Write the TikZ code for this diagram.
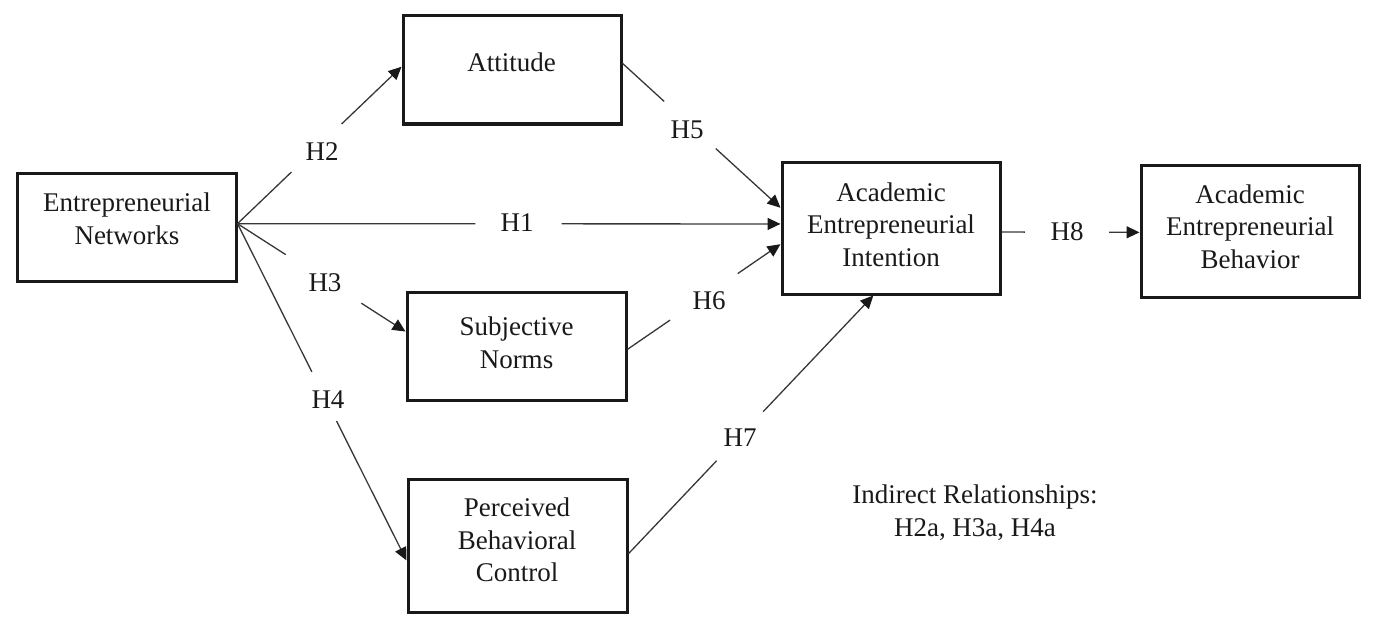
\documentclass[tikz,border=0pt]{standalone}
\usepackage{fontspec}
\setmainfont{Liberation Serif}
\usetikzlibrary{arrows.meta,calc}
\definecolor{ink}{RGB}{25,25,25}
\definecolor{wire}{RGB}{55,55,55}
\begin{document}
\begin{tikzpicture}[x=0.5pt,y=-0.5pt,
  box/.style={draw=ink, line width=1.5pt, inner sep=0pt},
  txt/.style={text=ink, align=center, inner sep=0pt, font=\fontsize{13.5}{16.3}\selectfont},
  hlab/.style={text=ink, inner sep=0pt, font=\fontsize{13.5}{16.3}\selectfont},
  wire/.style={draw=wire, line width=0.65pt},
  arr/.style={wire, -{Triangle[length=6.5pt,width=6pt,color=ink]}}]
\useasboundingbox (0,0) rectangle (1380,631);
% boxes
\node[box, minimum width=109.5pt, minimum height=54pt] (en) at (126.5,227) {};
\node[box, minimum width=109pt, minimum height=54pt] (att) at (512,70) {};
\node[box, minimum width=109.5pt, minimum height=54pt] (sn) at (516.5,346) {};
\node[box, minimum width=109.5pt, minimum height=66.5pt] (pbc) at (517.5,545.5) {};
\node[box, minimum width=109pt, minimum height=66pt] (int) at (891,228) {};
\node[box, minimum width=109pt, minimum height=66pt] (beh) at (1250,231) {};
% box texts
\node[txt] (ent) at (127,218.5) {Entrepreneurial\\Networks};
\node[txt] (attt) at (511.5,62) {Attitude};
\node[txt] (snt) at (516.5,343) {Subjective\\Norms};
\node[txt] (pbct) at (517,540) {Perceived\\Behavioral\\Control};
\node[txt] (intt) at (891,224.5) {Academic\\Entrepreneurial\\Intention};
\node[txt] (beht) at (1250,226.5) {Academic\\Entrepreneurial\\Behavior};
\node[txt] (ind) at (975,513) {Indirect Relationships:\\H2a, H3a, H4a};
% hypothesis labels
\node[hlab] (h1) at (517,223) {H1};
\node[hlab] (h2) at (322,152) {H2};
\node[hlab] (h3) at (325,283) {H3};
\node[hlab] (h4) at (328,400) {H4};
\node[hlab] (h5) at (687,130) {H5};
\node[hlab] (h6) at (709,301) {H6};
\node[hlab] (h7) at (740,438) {H7};
\node[hlab] (h8) at (1067,232) {H8};
% connector end points
\coordinate (o)  at ($(en.north east)!0.47!(en.south east)$);
\coordinate (t1) at ($(int.north west)!0.47!(int.south west)$);
\coordinate (t2) at ($(att.north west)!0.47!(att.south west)$);
\coordinate (t3) at ($(sn.north west)!0.37!(sn.south west)$);
\coordinate (t4) at ($(pbc.north west)!0.61!(pbc.south west)$);
\coordinate (s5) at ($(att.north east)!0.44!(att.south east)$);
\coordinate (t5) at ($(int.north west)!0.35!(int.south west)$);
\coordinate (s6) at ($(sn.north east)!0.53!(sn.south east)$);
\coordinate (t6) at ($(int.north west)!0.62!(int.south west)$);
\coordinate (s7) at ($(pbc.north east)!0.56!(pbc.south east)$);
\coordinate (t7) at ($(int.south west)!0.42!(int.south east)$);
\coordinate (s8) at ($(int.north east)!0.53!(int.south east)$);
\coordinate (t8) at ($(beh.north west)!0.51!(beh.south west)$);
% connectors (broken around their labels)
\draw[wire] (o) -- ($(o)!0.438!(t1)$);
\draw[arr] ($(o)!0.597!(t1)$) -- (t1);
\draw[wire] (o) -- ($(o)!0.329!(t2)$);
\draw[arr] ($(o)!0.635!(t2)$) -- (t2);
\draw[wire] (o) -- ($(o)!0.287!(t3)$);
\draw[arr] ($(o)!0.737!(t3)$) -- (t3);
\draw[wire] (o) -- ($(o)!0.44!(t4)$);
\draw[arr] ($(o)!0.586!(t4)$) -- (t4);
\draw[wire] (s5) -- ($(s5)!0.264!(t5)$);
\draw[arr] ($(s5)!0.59!(t5)$) -- (t5);
\draw[wire] (s6) -- ($(s6)!0.278!(t6)$);
\draw[arr] ($(s6)!0.72!(t6)$) -- (t6);
\draw[wire] (s7) -- ($(s7)!0.36!(t7)$);
\draw[arr] ($(s7)!0.55!(t7)$) -- (t7);
\draw[wire] (s8) -- ($(s8)!0.17!(t8)$);
\draw[arr] ($(s8)!0.78!(t8)$) -- (t8);
\end{tikzpicture}
\end{document}
